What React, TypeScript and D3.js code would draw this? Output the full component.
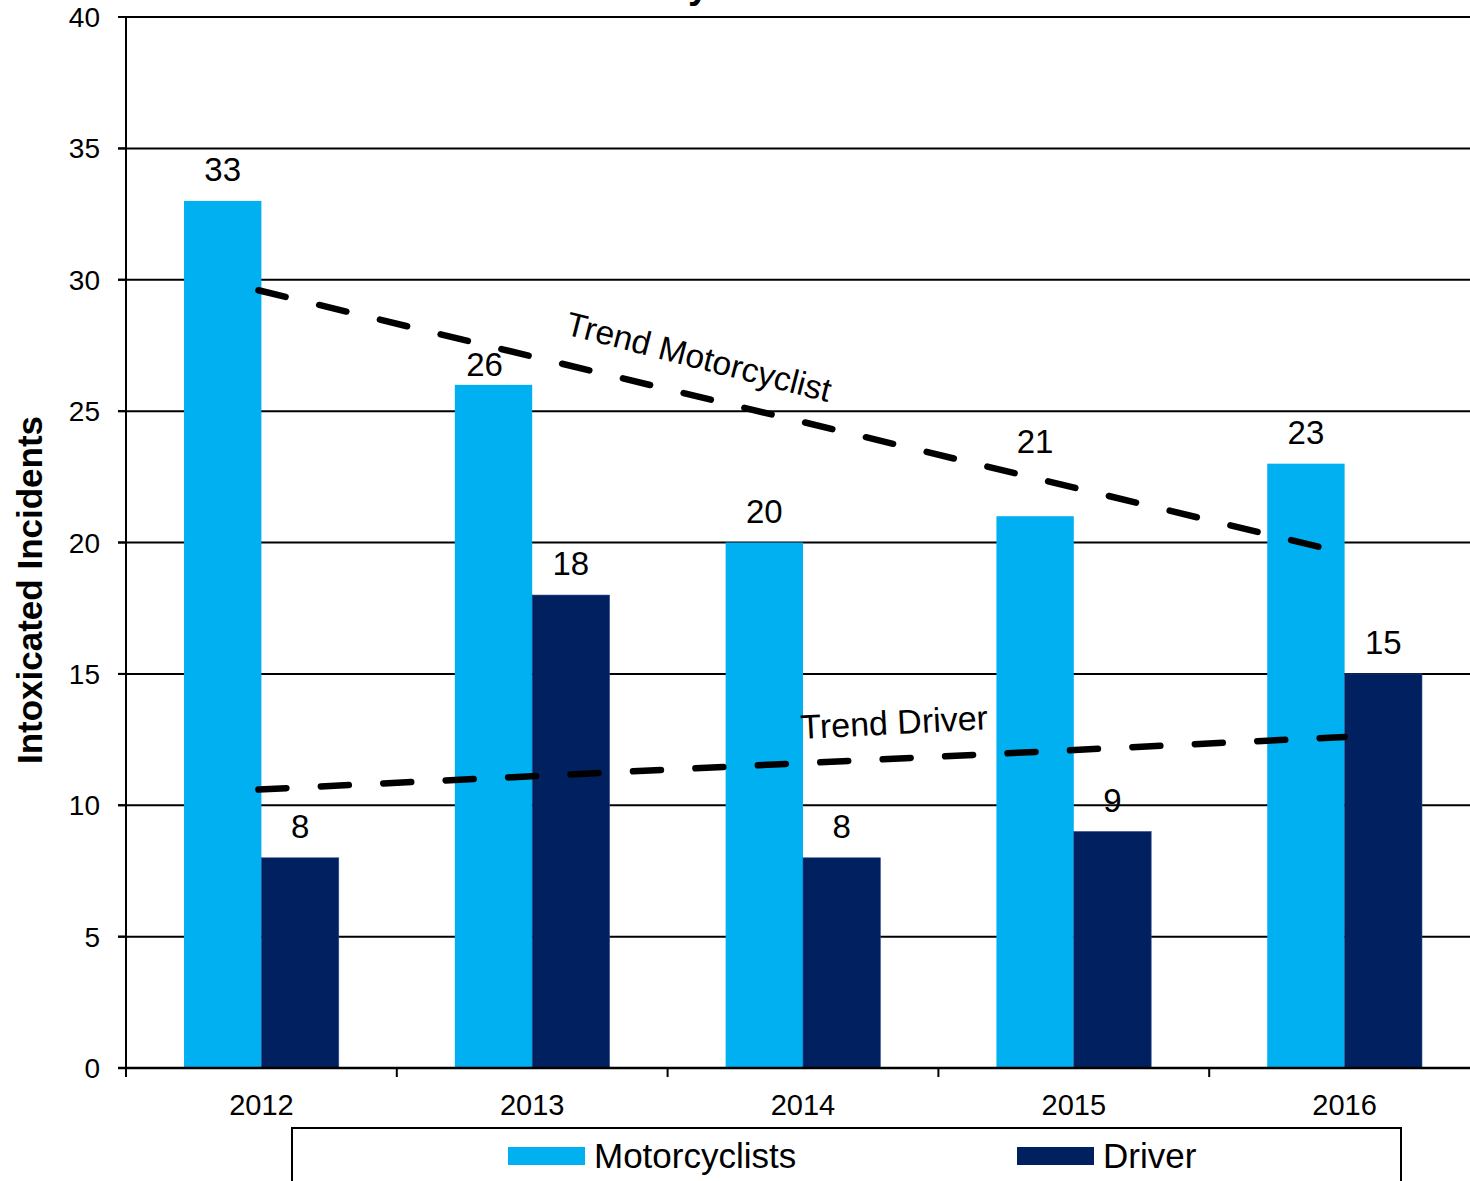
import React from "react";
import * as d3 from "d3";

const years = ["2012", "2013", "2014", "2015", "2016"];
const motorcyclists = [33, 26, 20, 21, 23];
const drivers = [8, 18, 8, 9, 15];
const yTicks = [0, 5, 10, 15, 20, 25, 30, 35, 40];
const seriesNames = ["Motorcyclists", "Driver"];
const trendNames = ["Trend Motorcyclist", "Trend Driver"];
// manual label nudges (dx, dy) as placed in the original
const motorLabelNudge = [[0, 0], [-9, 11], [0, 0], [0, -43], [0, 0]];
const driverLabelNudge = [[0, 0], [0, 0], [0, 0], [0, 0], [0, 0]];

const W = 1470;
const H = 1181;
const LIGHT = "#00B0F0";
const DARK = "#002060";
const FONT = "'Liberation Sans', Arial, sans-serif";

function regression(vals: number[]) {
  const xs = vals.map((_, i) => i);
  const mx = d3.mean(xs) as number;
  const my = d3.mean(vals) as number;
  let sxy = 0, sxx = 0;
  xs.forEach((x, i) => { sxy += (x - mx) * (vals[i] - my); sxx += (x - mx) ** 2; });
  const slope = sxy / sxx;
  return (x: number) => my + slope * (x - mx);
}

export default function App() {
  const left = 126;
  const bandW = 270.8;
  const x = d3.scaleBand<string>().domain(years).range([left, left + bandW * years.length]).padding(0);
  const y = d3.scaleLinear().domain([0, 40]).range([1068, 17]);
  const groupW = (x.bandwidth() * 2) / 3.5;
  const sub = d3.scaleBand<string>().domain(["m", "d"]).range([0, groupW]);
  const gx = (yr: string) => (x(yr) as number) + (x.bandwidth() - groupW) / 2;
  const cx = (i: number) => (x(years[i]) as number) + x.bandwidth() / 2;

  const tm = regression(motorcyclists);
  const td = regression(drivers);
  const last = years.length - 1;
  const line = d3.line<[number, number]>().x((d) => d[0]).y((d) => d[1]);
  const mLine = line([[cx(0) - 3, y(tm(0))], [cx(last), y(tm(last))]]);
  const dLine = line([[cx(0) - 3, y(td(0))], [cx(last), y(td(last))]]);

  const tickX = d3.range(years.length + 1).map((i) => left + i * x.bandwidth());

  return (
    <svg width={W} height={H} style={{ position: "absolute", left: 0, top: 0, background: "#fff" }} fontFamily={FONT}>
      {/* title fragment (cut off at top of the original) */}
      <text x={688} y={-2} fontSize={38} fontWeight="bold" fill="#000">y</text>

      {/* gridlines */}
      {yTicks.filter((t) => t > 0).map((t) => (
        <line key={t} x1={118} x2={W} y1={y(t)} y2={y(t)} stroke="#000" strokeWidth={2} />
      ))}

      {/* bars */}
      {years.map((yr, i) => (
        <g key={yr}>
          <rect x={gx(yr) + (sub("m") as number)} y={y(motorcyclists[i])} width={sub.bandwidth()} height={y(0) - y(motorcyclists[i])} fill={LIGHT} />
          <rect x={gx(yr) + (sub("d") as number)} y={y(drivers[i])} width={sub.bandwidth()} height={y(0) - y(drivers[i])} fill={DARK} stroke="#2a4a8a" strokeWidth={0.6} />
        </g>
      ))}

      {/* axes */}
      <line x1={left} x2={left} y1={y(40)} y2={y(0) + 9} stroke="#000" strokeWidth={2} />
      <line x1={118} x2={W} y1={y(0)} y2={y(0)} stroke="#000" strokeWidth={2.5} />
      {yTicks.map((t) => (
        <g key={t}>
          <line x1={118} x2={left} y1={y(t)} y2={y(t)} stroke="#000" strokeWidth={2} />
          <text x={100} y={y(t)} dy="0.36em" textAnchor="end" fontSize={28} fill="#000">{t}</text>
        </g>
      ))}
      {tickX.map((tx, i) => (
        <line key={i} x1={tx} x2={tx} y1={y(0)} y2={y(0) + 9} stroke="#000" strokeWidth={2} />
      ))}
      {years.map((yr, i) => (
        <text key={yr} x={cx(i)} y={1115} textAnchor="middle" fontSize={29} fill="#000">{yr}</text>
      ))}

      {/* y axis title */}
      <text transform={`translate(42, 590) rotate(-90)`} textAnchor="middle" fontSize={35} fontWeight="bold" fill="#000">
        Intoxicated Incidents
      </text>

      {/* data labels */}
      {years.map((yr, i) => (
        <g key={yr}>
          <text x={gx(yr) + (sub("m") as number) + sub.bandwidth() / 2 + motorLabelNudge[i][0]} y={y(motorcyclists[i]) - 20 + motorLabelNudge[i][1]} textAnchor="middle" fontSize={33} fill="#000">{motorcyclists[i]}</text>
          <text x={gx(yr) + (sub("d") as number) + sub.bandwidth() / 2 + driverLabelNudge[i][0]} y={y(drivers[i]) - 20 + driverLabelNudge[i][1]} textAnchor="middle" fontSize={33} fill="#000">{drivers[i]}</text>
        </g>
      ))}

      {/* trend lines */}
      <path d={mLine as string} stroke="#000" strokeWidth={6.5} strokeDasharray="28 34.5" strokeLinecap="round" fill="none" />
      <path d={dLine as string} stroke="#000" strokeWidth={6.5} strokeDasharray="28 34.5" strokeLinecap="round" fill="none" />
      <text transform="translate(564, 334) rotate(14.5)" fontSize={33.5} fill="#000">{trendNames[0]}</text>
      <text transform="translate(801, 739) rotate(-3)" fontSize={34} fill="#000">{trendNames[1]}</text>

      {/* legend */}
      <rect x={292} y={1128} width={1109} height={120} fill="none" stroke="#000" strokeWidth={2} />
      <rect x={508} y={1147} width={77} height={18} fill={LIGHT} />
      <text x={594} y={1168} fontSize={35} fill="#000">{seriesNames[0]}</text>
      <rect x={1017} y={1147} width={77} height={18} fill={DARK} />
      <text x={1103} y={1168} fontSize={35} fill="#000">{seriesNames[1]}</text>
    </svg>
  );
}
